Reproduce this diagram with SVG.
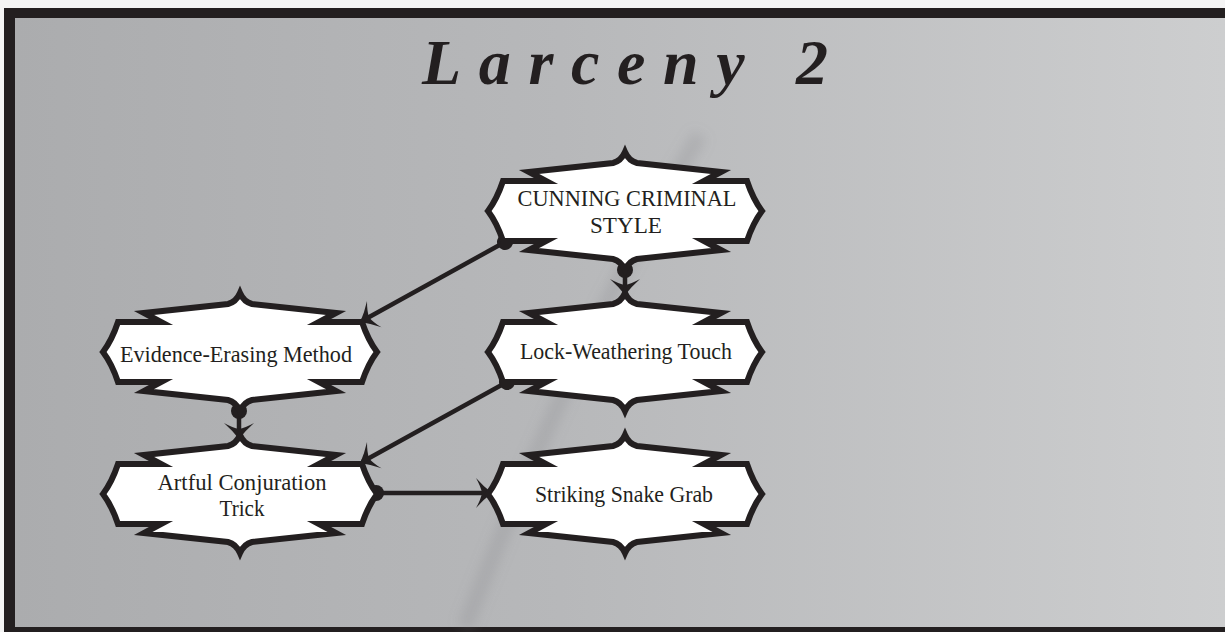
<svg xmlns="http://www.w3.org/2000/svg" xmlns:xlink="http://www.w3.org/1999/xlink" width="1225" height="632" viewBox="0 0 1225 632">
  <style>
    .node-shape { fill: #ffffff; stroke: #231f20; stroke-width: 6; stroke-linejoin: miter; stroke-miterlimit: 10; }
    .label { font-family: "Liberation Serif", "DejaVu Serif", serif; font-size: 24px; fill: #231f20; text-anchor: middle; }
    .edge { fill: none; stroke: #231f20; stroke-width: 4.5; marker-start: url(#dot); marker-end: url(#barb); }
    .title { font-family: "Liberation Serif", "DejaVu Serif", serif; font-style: italic; font-weight: bold; font-size: 64px; fill: #231f20; }
  </style>
  <defs>
    <linearGradient id="paper" x1="0" y1="0" x2="1" y2="0">
      <stop offset="0" stop-color="#abacae"/>
      <stop offset="0.45" stop-color="#b7b8ba"/>
      <stop offset="1" stop-color="#cdcecf"/>
    </linearGradient>
    <filter id="soft" x="-20%" y="-20%" width="140%" height="140%">
      <feGaussianBlur stdDeviation="6"/>
    </filter>
    <path id="shape" d="M0,-59 Q4,-50 12,-48 L96,-39 L79,-30 L122,-30 Q128,-12 137,0 Q128,12 122,30 L79,30 L96,39 L12,48 Q4,50 0,59 Q-4,50 -12,48 L-96,39 L-79,30 L-122,30 Q-128,12 -137,0 Q-128,-12 -122,-30 L-79,-30 L-96,-39 L-12,-48 Q-4,-50 0,-59 Z"/>
    <marker id="barb" markerUnits="userSpaceOnUse" markerWidth="40" markerHeight="40" viewBox="-20 -20 40 40" refX="0" refY="0" orient="auto" overflow="visible">
      <path d="M2,0 Q-6,-6 -14,-15 Q-9,-6 -8,0 Q-9,6 -14,15 Q-6,6 2,0 Z" fill="#231f20"/>
    </marker>
    <marker id="dot" markerUnits="userSpaceOnUse" markerWidth="20" markerHeight="20" viewBox="-10 -10 20 20" refX="0" refY="0" orient="auto" overflow="visible">
      <circle cx="0" cy="0" r="8" fill="#231f20"/>
    </marker>
  </defs>

  <g id="background">
    <rect x="0" y="0" width="1225" height="632" fill="#f4f4f4"/>
    <rect x="4" y="8" width="1221" height="624" fill="#231f20"/>
    <rect x="15" y="18" width="1210" height="609" fill="url(#paper)"/>
    <path d="M700,135 Q580,330 465,627" fill="none" stroke="#7f8082" stroke-width="16" stroke-opacity="0.22" filter="url(#soft)"/>
  </g>

  <g id="title">
    <text class="title" x="422" y="84" textLength="406" lengthAdjust="spacing">Larceny 2</text>
  </g>

  <g id="connectors">
    <path class="edge" d="M505,242 L362,321"/>
    <path class="edge" d="M625,270 L625,293"/>
    <path class="edge" d="M507,382 L362,462"/>
    <path class="edge" d="M239,411 L239,437"/>
    <path class="edge" d="M376,493 L490,493"/>
  </g>

  <g id="node-cunning-criminal-style">
    <use href="#shape" x="625" y="211" class="node-shape"/>
    <text class="label" x="627" y="206" textLength="219" lengthAdjust="spacingAndGlyphs">CUNNING CRIMINAL</text>
    <text class="label" x="626" y="233" textLength="72" lengthAdjust="spacingAndGlyphs">STYLE</text>
  </g>

  <g id="node-evidence-erasing-method">
    <use href="#shape" x="240" y="352" class="node-shape"/>
    <text class="label" x="236" y="362" textLength="232" lengthAdjust="spacingAndGlyphs">Evidence-Erasing Method</text>
  </g>

  <g id="node-lock-weathering-touch">
    <use href="#shape" x="625" y="352" class="node-shape"/>
    <text class="label" x="626" y="359" textLength="212" lengthAdjust="spacingAndGlyphs">Lock-Weathering Touch</text>
  </g>

  <g id="node-artful-conjuration-trick">
    <use href="#shape" x="240" y="494" class="node-shape"/>
    <text class="label" x="242" y="490" textLength="169" lengthAdjust="spacingAndGlyphs">Artful Conjuration</text>
    <text class="label" x="242" y="516" textLength="45" lengthAdjust="spacingAndGlyphs">Trick</text>
  </g>

  <g id="node-striking-snake-grab">
    <use href="#shape" x="625" y="494" class="node-shape"/>
    <text class="label" x="624" y="502" textLength="178" lengthAdjust="spacingAndGlyphs">Striking Snake Grab</text>
  </g>
</svg>
